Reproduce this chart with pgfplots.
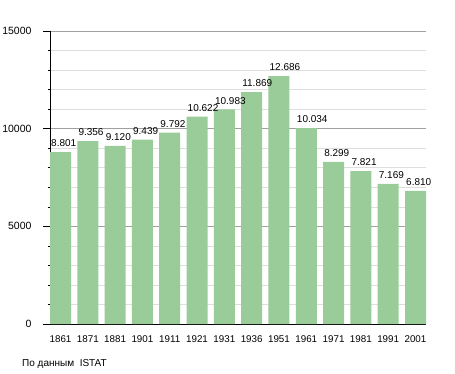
\documentclass[border=0pt]{standalone}
\usepackage{fontspec}
\setmainfont{Liberation Sans}
\usepackage{pgfplots}
\pgfplotsset{compat=1.18}
\definecolor{barg}{RGB}{153,204,153}
\definecolor{majg}{RGB}{160,160,160}
\definecolor{ming}{RGB}{222,222,222}
\begin{document}
\begin{tikzpicture}[x=1bp,y=1bp]
\path (0,0) rectangle (455,373);
\begin{axis}[
  at={(50bp,49bp)}, anchor=south west,
  scale only axis, width=376bp, height=293bp,
  xmin=-0.385, xmax=13.385, ymin=0, ymax=15000,
  axis x line=bottom, axis y line=left,
  axis line style={-, black, line width=0.8pt},
  xtick=data,
  xticklabels={1861,1871,1881,1901,1911,1921,1931,1936,1951,1961,1971,1981,1991,2001},
  xtick style={draw=none},
  xticklabel style={anchor=north, inner sep=0pt, yshift=-4bp, font=\fontsize{9.8bp}{12bp}\selectfont},
  ytick={0,5000,10000,15000},
  minor y tick num=4,
  tick align=outside,
  major tick length=7bp, minor tick length=2.5bp,
  ytick style={black, line width=0.5pt},
  yticklabel style={anchor=east, inner sep=0pt, xshift=-11.3bp, font=\fontsize{10.5bp}{12bp}\selectfont},
  /pgf/number format/assume math mode=true,
  /pgf/number format/1000 sep={},
  ymajorgrids, yminorgrids,
  major grid style={majg, line width=0.6pt},
  minor grid style={ming, line width=0.6pt},
  scaled y ticks=false,
]
\addplot[ybar, bar width=21bp, fill=barg, draw=none,
  point meta=explicit symbolic,
  nodes near coords,
  every node near coord/.style={anchor=south west, inner sep=0pt, xshift=-9.5bp, yshift=5bp, font=\fontsize{10bp}{12bp}\selectfont, black}]
coordinates {
(0,8801)[8.801]
(1,9356)[9.356]
(2,9120)[9.120]
(3,9439)[9.439]
(4,9792)[9.792]
(5,10622)[10.622]
(6,10983)[10.983]
(7,11869)[11.869]
(8,12686)[12.686]
(9,10034)[10.034]
(10,8299)[8.299]
(11,7821)[7.821]
(12,7169)[7.169]
(13,6810)[6.810]
};
\end{axis}
\node[anchor=base west, inner sep=0pt, font=\fontsize{10bp}{12bp}\selectfont] at (22,7) {По данным\ \ ISTAT};
\end{tikzpicture}
\end{document}
